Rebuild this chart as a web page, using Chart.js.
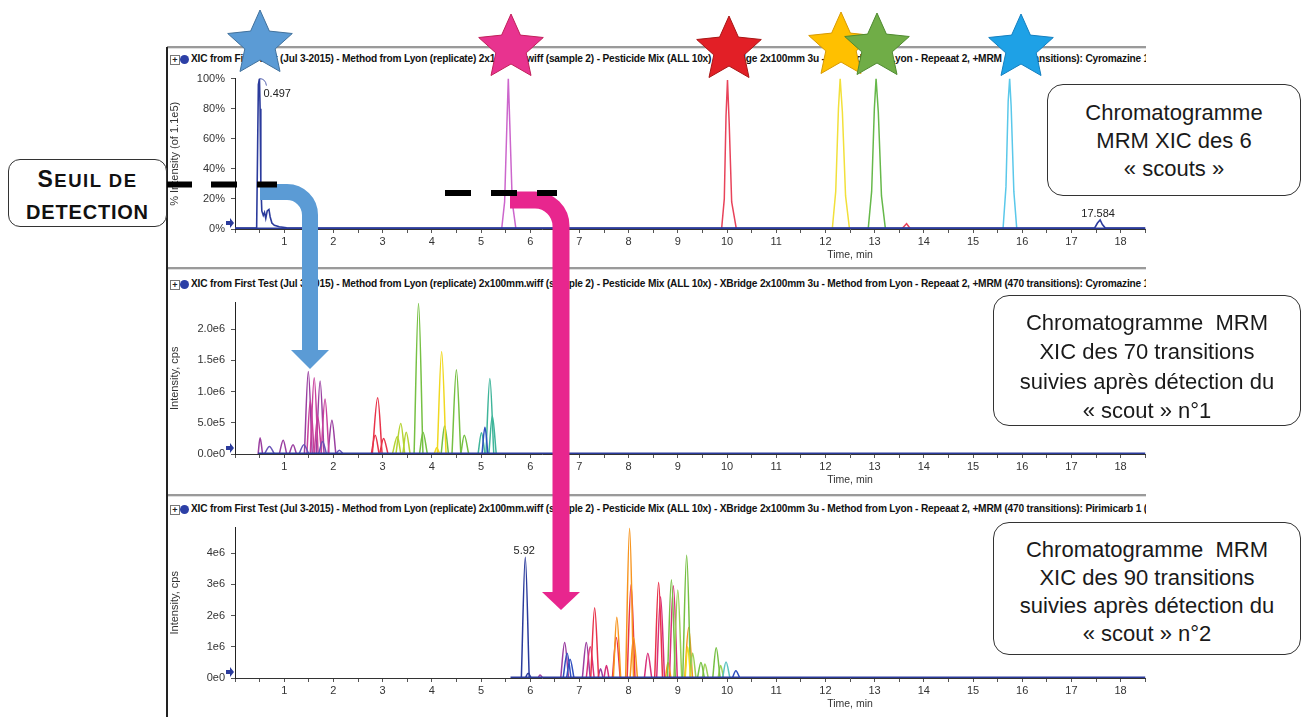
<!DOCTYPE html>
<html><head><meta charset="utf-8">
<script src="https://cdn.jsdelivr.net/npm/chart.js@4.4.1/dist/chart.umd.min.js"></script>
<style>
html,body{margin:0;padding:0;background:#fff;}
body{width:1306px;height:717px;position:relative;overflow:hidden;font-family:"Liberation Sans",Arial,sans-serif;}
.wrap{position:absolute;left:167px;width:979px;overflow:hidden;}
.wrap canvas{display:block;}
.tbar{position:absolute;left:169px;width:977px;height:15px;overflow:hidden;white-space:nowrap;color:#111;line-height:15px;}
.tbar .plus{position:absolute;left:1px;top:3px;width:8px;height:8px;border:1px solid #777;font:bold 9px/8px "Liberation Sans",sans-serif;text-align:center;color:#222;}
.tbar .dot{position:absolute;left:11px;top:3px;width:9px;height:9px;border-radius:50%;background:#2c3fa6;}
.tbar .txt{position:absolute;left:22px;top:0;transform-origin:0 50%;font:bold 11px "Liberation Sans Narrow","Liberation Sans",sans-serif;letter-spacing:-0.2px;}
.hline{position:absolute;left:167px;width:979px;height:2px;background:#9a9a9a;border-bottom:1px solid #dedede;}
.vline{position:absolute;left:166px;top:47px;width:1.5px;height:670px;background:#222;}
.callout{position:absolute;border:1.3px solid #333;border-radius:16px;background:#fff;text-align:center;font-family:"Liberation Sans",Arial,sans-serif;font-size:22px;color:#1a1a1a;white-space:pre;box-sizing:border-box;}
.seuil{position:absolute;left:8px;top:159px;width:159px;height:68px;border:1.3px solid #333;border-radius:12px;background:#fff;box-sizing:border-box;text-align:center;font-family:"Liberation Sans",Arial,sans-serif;font-weight:bold;color:#111;}
svg{position:absolute;left:0;top:0;}
</style>
</head>
<body>
<div class="hline" style="top:46px"></div>
<div class="hline" style="top:267px"></div>
<div class="hline" style="top:494px"></div>
<div class="vline"></div>

<div class="tbar" style="top:52px"><span class="plus">+</span><span class="dot"></span><span class="txt" id="t1"></span></div>
<div class="tbar" style="top:277px"><span class="plus">+</span><span class="dot"></span><span class="txt" id="t2"></span></div>
<div class="tbar" style="top:502px"><span class="plus">+</span><span class="dot"></span><span class="txt" id="t3"></span></div>

<div class="wrap" style="top:66px;height:202px"><canvas id="c1" width="1300" height="202"></canvas></div>
<div class="wrap" style="top:290px;height:203px"><canvas id="c2" width="1300" height="203"></canvas></div>
<div class="wrap" style="top:515px;height:202px"><canvas id="c3" width="1300" height="202"></canvas></div>

<svg id="ov" width="1306" height="717"></svg>

<div class="seuil"><div style="padding-top:4px;line-height:31px;letter-spacing:1.5px"><span style="font-size:23px">S</span><span style="font-size:18.5px">EUIL DE</span></div><div style="line-height:31px;font-size:20px;letter-spacing:0.8px">DETECTION</div></div>

<div class="callout" style="left:1047px;top:84px;width:254px;height:112px;padding-top:14px;line-height:28px">Chromatogramme
MRM XIC des 6
« scouts »</div>
<div class="callout" style="left:993px;top:295px;width:308px;height:131px;padding-top:12px;line-height:29.3px">Chromatogramme  MRM
XIC des 70 transitions
suivies après détection du
« scout » n°1</div>
<div class="callout" style="left:993px;top:522px;width:308px;height:133px;padding-top:13px;line-height:28px">Chromatogramme  MRM
XIC des 90 transitions
suivies après détection du
« scout » n°2</div>

<script>
// ---------------- DATA ----------------
const titlePrefix = "XIC from First Test (Jul 3-2015) - Method from Lyon (replicate) 2x100mm.wiff (sample 2) - Pesticide Mix (ALL 10x) - XBridge 2x100mm 3u - Method from Lyon - Repeaat 2, +MRM (470 transitions): ";
const panelCompounds = ["Cyromazine 1 (", "Cyromazine 1 (", "Pirimicarb 1 ("];

const timeTickLabels = [1,2,3,4,5,6,7,8,9,10,11,12,13,14,15,16,17,18];

const p1TickValues = [0,20,40,60,80,100];
const p1TickLabels = ["0%","20%","40%","60%","80%","100%"];
const p2TickValues = [0,0.5,1.0,1.5,2.0];
const p2TickLabels = ["0.0e0","5.0e5","1.0e6","1.5e6","2.0e6"];
const p3TickValues = [0,1,2,3,4];
const p3TickLabels = ["0e0","1e6","2e6","3e6","4e6"];

// Panel 1: scouts, % intensity (of 1.1e5), points [time, %]
const p1Navy = [[0,0.6],[0.44,0.6],[0.46,55],[0.475,96],[0.497,100],[0.51,80],[0.525,30],[0.545,12],[0.575,9],[0.6,11],[0.625,7],[0.655,12],[0.69,13],[0.715,8],[0.75,4],[0.8,2.5],[0.9,1.5],[1.05,0.8],[1.3,0.6],[17.47,0.6],[17.53,4],[17.584,6],[17.63,3],[17.69,0.6],[18.5,0.6]];
const p1Magenta = [[5.42,0],[5.48,18],[5.525,68],[5.555,100],[5.585,70],[5.635,18],[5.71,0]];
const p1Red = [[9.89,0],[9.945,20],[9.98,75],[10.01,99],[10.045,70],[10.095,18],[10.19,0],[13.55,0],[13.65,3.5],[13.73,0]];
const p1Yellow = [[12.14,0],[12.21,25],[12.265,80],[12.3,100],[12.345,78],[12.41,22],[12.49,0]];
const p1Green = [[12.87,0],[12.94,25],[12.995,80],[13.03,100],[13.075,78],[13.14,22],[13.22,0]];
const p1Cyan = [[15.61,0],[15.67,28],[15.715,85],[15.745,100],[15.775,82],[15.83,25],[15.89,0]];
const p1Baseline = [[0,0],[18.5,0]];

// Panel 2: 70 transitions, peaks [start, apex, end, height (x1e6 cps)]
const p2Violet = [[0.47,0.51,0.56,0.26],[0.9,0.98,1.05,0.22],[1.1,1.18,1.25,0.15],[1.41,1.49,1.57,1.32],[1.65,1.73,1.81,1.17],[1.89,1.97,2.05,0.54]];
const p2Magenta = [[1.53,1.61,1.69,1.22],[1.75,1.83,1.91,0.88],[1.46,1.53,1.61,0.85],[1.61,1.68,1.76,0.6]];
const p2Indigo = [[0.6,0.7,0.8,0.12],[1.3,1.4,1.5,0.15],[1.7,1.78,1.86,0.2],[2.05,2.12,2.2,0.06]];
const p2Red = [[2.79,2.9,2.99,0.9],[2.77,2.85,2.93,0.3],[2.94,3.02,3.11,0.25]];
const p2YellowGreen = [[3.27,3.37,3.45,0.49],[3.41,3.48,3.56,0.35],[3.2,3.3,3.37,0.28]];
const p2Green = [[3.64,3.73,3.82,2.41],[3.75,3.82,3.91,0.35],[4.41,4.5,4.59,1.35],[4.59,4.66,4.75,0.3],[4.19,4.26,4.34,0.45]];
const p2Yellow = [[4.11,4.2,4.29,1.64],[4.05,4.1,4.16,0.1]];
const p2Teal = [[4.94,5.01,5.08,0.34],[5.1,5.18,5.26,1.21],[5.16,5.23,5.31,0.61]];
const p2Blue = [[5.02,5.08,5.14,0.43]];
const p2Baseline = [[0.47,0],[18.5,0]];

// Panel 3: 90 transitions, peaks [start, apex, end, height (x1e6 cps)]
const p3Navy = [[5.82,5.9,5.98,3.87],[5.9,5.96,6.02,0.15]];
const p3Violet = [[6.16,6.2,6.25,0.1],[6.62,6.7,6.78,1.14],[7.06,7.14,7.22,1.14],[7.38,7.43,7.48,0.3]];
const p3Blue = [[6.67,6.75,6.83,0.79],[6.74,6.81,6.89,0.6],[10.11,10.18,10.26,0.23]];
const p3Red = [[7.23,7.31,7.39,2.25],[7.97,8.05,8.13,3.0],[8.53,8.61,8.69,3.07],[7.67,7.75,7.83,1.3]];
const p3Magenta = [[7.14,7.22,7.3,1.0],[7.5,7.55,7.6,0.4],[8.32,8.39,8.47,0.79],[8.57,8.65,8.73,2.6],[8.83,8.91,8.99,2.96]];
const p3Orange = [[7.69,7.76,7.84,1.95],[7.94,8.02,8.1,4.8],[8.03,8.1,8.18,1.3],[9.14,9.22,9.3,1.62],[8.75,8.8,8.86,0.5]];
const p3Green = [[8.79,8.87,8.95,3.15],[9.1,9.18,9.26,3.93],[9.71,9.78,9.86,0.97],[9.4,9.47,9.54,0.5]];
const p3LightGreen = [[8.92,9.0,9.08,2.82],[9.5,9.55,9.62,0.45],[9.25,9.3,9.37,0.8],[9.82,9.87,9.93,0.4]];
const p3Yellow = [[9.15,9.2,9.26,1.0]];
const p3Teal = [[9.91,9.98,10.06,0.51]];
const p3Baseline = [[5.6,0],[18.5,0]];

// ---------------- STYLE ----------------
const narrow = '"Liberation Sans Narrow","Liberation Sans",Arial,sans-serif';
const colors = {
  navy:'#2b3b9c', magenta:'#cc66cc', red:'#e8435a', yellow:'#f2e03a', green:'#66b84a', cyan:'#5ac8ea',
  violet:'#9a3fa0', pink:'#c8419c', indigo:'#6a55b8', red2:'#e8334a', ygreen:'#b5d334', green2:'#76c043',
  yellow2:'#f0d820', teal:'#3fb59a', blue:'#2f4fc0', orange:'#f7941d', magenta3:'#d8307a', lgreen:'#9bd055'
};

// titles
document.getElementById('t1').textContent = titlePrefix + panelCompounds[0];
document.getElementById('t2').textContent = titlePrefix + panelCompounds[1];
document.getElementById('t3').textContent = titlePrefix + panelCompounds[2];
(function(){
  const m = document.createElement('span');
  m.className='txt'; m.style.visibility='hidden'; m.style.position='absolute';
  m.textContent = titlePrefix + 'Cyromazine';
  document.querySelector('.tbar').appendChild(m);
  const s = 950 / m.getBoundingClientRect().width;
  m.remove();
  ['t1','t2','t3'].forEach(id=>document.getElementById(id).style.transform='scaleX('+s+')');
})();

function lineSet(points, color, width){
  return {data: points.map(p=>({x:p[0], y:p[1]})), borderColor: color, borderWidth: width||1.5, pointRadius:0, fill:false, tension:0};
}
function peakSets(peaks, color){
  return peaks.map(p=>({data:[{x:p[0],y:0},{x:p[1],y:p[3]},{x:p[2],y:0}], borderColor:color, borderWidth:1.5, pointRadius:0, fill:false, cubicInterpolationMode:'monotone'}));
}

const annotPlugin = {
  id:'annot',
  afterDatasetsDraw(chart, args, opts){
    const ctx = chart.ctx, xs = chart.scales.x, ys = chart.scales.y, ca = chart.chartArea;
    ctx.save();
    const yb = ys.getPixelForValue(0) - 6;
    ctx.fillStyle = '#2b3b9c';
    ctx.beginPath();
    ctx.moveTo(ca.left-9, yb-2); ctx.lineTo(ca.left-5, yb-2); ctx.lineTo(ca.left-5, yb-5);
    ctx.lineTo(ca.left-1, yb); ctx.lineTo(ca.left-5, yb+5); ctx.lineTo(ca.left-5, yb+2); ctx.lineTo(ca.left-9, yb+2);
    ctx.closePath(); ctx.fill();
    ctx.font = '11px ' + narrow; ctx.fillStyle = '#222';
    (opts.labels||[]).forEach(l=>{
      const px = xs.getPixelForValue(l.x), py = ys.getPixelForValue(l.y);
      if (l.side === 'right') {
        ctx.strokeStyle = '#2b3b9c'; ctx.lineWidth = 0.8;
        ctx.beginPath(); ctx.moveTo(px, py); ctx.quadraticCurveTo(px+6, py, px+7, py+7); ctx.stroke();
        ctx.textAlign='left'; ctx.textBaseline='middle'; ctx.fillText(l.text, px+4, py+15);
      } else {
        ctx.textAlign='center'; ctx.textBaseline='bottom'; ctx.fillText(l.text, px - 2, py - 1);
      }
    });
    ctx.restore();
  }
};

function makeChart(id, datasets, yMax, tickValues, tickLabels, yTitle, labels){
  return new Chart(document.getElementById(id), {
    type:'line',
    data:{datasets},
    plugins:[annotPlugin],
    options:{
      responsive:false, animation:false, devicePixelRatio:1, parsing:true,
      layout:{padding:{top:10,right:0,bottom:0,left:0}},
      plugins:{legend:{display:false}, tooltip:{enabled:false}, annot:{labels}},
      scales:{
        x:{type:'linear', min:0, max:25,
          afterFit(s){ s.height = 39; },
          ticks:{stepSize:0.5, autoSkip:false, maxRotation:0, minRotation:0, padding:2, color:'#333',
            font:{family:narrow, size:11},
            callback:(v)=> timeTickLabels.includes(v) ? String(v) : ''},
          grid:{drawOnChartArea:false, drawTicks:true, tickLength:4, color:'#555'},
          border:{color:'#333', width:1},
          title:{display:true, text:'Time, min', color:'#333', font:{family:narrow, size:10.5}, padding:{top:0,bottom:7}}
        },
        y:{min:0, max:yMax,
          afterFit(s){ s.width = 68; },
          afterBuildTicks(s){ s.ticks = tickValues.map(v=>({value:v})); },
          ticks:{padding:6, color:'#333', font:{family:narrow, size:11}, callback:(v,i)=>tickLabels[i]},
          grid:{drawOnChartArea:false, drawTicks:true, tickLength:4, color:'#555'},
          border:{color:'#222', width:1},
          title:{display:true, text:yTitle, color:'#333', font:{family:narrow, size:11}, padding:{top:1,bottom:0}}
        }
      }
    }
  });
}

// Panel 1
makeChart('c1', [
  lineSet(p1Baseline, colors.navy, 3),
  lineSet(p1Navy, colors.navy, 1.6),
  lineSet(p1Magenta, colors.magenta),
  lineSet(p1Red, colors.red),
  lineSet(p1Yellow, colors.yellow),
  lineSet(p1Green, colors.green),
  lineSet(p1Cyan, colors.cyan)
], 100, p1TickValues, p1TickLabels, '% Intensity (of 1.1e5)',
 [{x:0.497, y:100, text:'0.497', side:'right'}, {x:17.584, y:6, text:'17.584'}]);

// Panel 2
makeChart('c2', [
  lineSet(p2Baseline, colors.navy, 3),
  ...peakSets(p2Blue, colors.blue),
  ...peakSets(p2Teal, colors.teal),
  ...peakSets(p2Yellow, colors.yellow2),
  ...peakSets(p2Green, colors.green2),
  ...peakSets(p2YellowGreen, colors.ygreen),
  ...peakSets(p2Red, colors.red2),
  ...peakSets(p2Indigo, colors.indigo),
  ...peakSets(p2Magenta, colors.pink),
  ...peakSets(p2Violet, colors.violet)
], 2.425, p2TickValues, p2TickLabels, 'Intensity, cps', []);

// Panel 3
makeChart('c3', [
  lineSet(p3Baseline, colors.navy, 3),
  ...peakSets(p3Navy, colors.navy),
  ...peakSets(p3Teal, '#5cc4c0'),
  ...peakSets(p3Yellow, colors.yellow2),
  ...peakSets(p3Green, colors.green2),
  ...peakSets(p3LightGreen, colors.lgreen),
  ...peakSets(p3Orange, colors.orange),
  ...peakSets(p3Red, colors.red2),
  ...peakSets(p3Magenta, colors.magenta3),
  ...peakSets(p3Blue, colors.blue),
  ...peakSets(p3Violet, colors.violet)
], 4.82, p3TickValues, p3TickLabels, 'Intensity, cps', [{x:5.92, y:3.87, text:'5.92'}]);

// ---------------- ANNOTATIONS (stars, arrows, threshold dashes) ----------------
const NS = 'http://www.w3.org/2000/svg';
const ov = document.getElementById('ov');
function el(tag, attrs){ const e = document.createElementNS(NS, tag); for (const k in attrs) e.setAttribute(k, attrs[k]); ov.appendChild(e); return e; }
function starPts(cx, cy, R, r){
  const p = [];
  for (let i=0;i<10;i++){ const a = -Math.PI/2 + i*Math.PI/5; const rad = i%2 ? r : R; p.push((cx+rad*Math.cos(a)).toFixed(1)+','+(cy+rad*Math.sin(a)).toFixed(1)); }
  return p.join(' ');
}
el('path', {d:'M 260 192 H 287 A 23 23 0 0 1 310 215 V 351', fill:'none', stroke:'#5b9bd5', 'stroke-width':16});
el('polygon', {points:'291,350 329,350 310,369', fill:'#5b9bd5'});
el('path', {d:'M 510 200 H 535 A 26 26 0 0 1 561 226 V 593', fill:'none', stroke:'#e8268e', 'stroke-width':17});
el('polygon', {points:'542,592 580,592 561,610', fill:'#e8268e'});
[[167,192],[211,237],[257,277]].forEach(s=>el('rect',{x:s[0], y:181.5, width:s[1]-s[0], height:6, fill:'#000'}));
[[445,471],[491,517],[537,557]].forEach(s=>el('rect',{x:s[0], y:190, width:s[1]-s[0], height:6, fill:'#000'}));
const stars = [
  [260,44,'#5b9bd5','#41719c'],
  [511,48,'#e8338f','#c0205a'],
  [729,50,'#e21f26','#a81515'],
  [841,46,'#ffc000','#d89a00'],
  [877,47,'#70ad47','#4f8a30'],
  [1021,48,'#1ea1e6','#147fc0']
];
stars.forEach(s=>el('polygon',{points:starPts(s[0], s[1], 34, 16), fill:s[2], stroke:s[3], 'stroke-width':1}));
</script>
</body></html>
